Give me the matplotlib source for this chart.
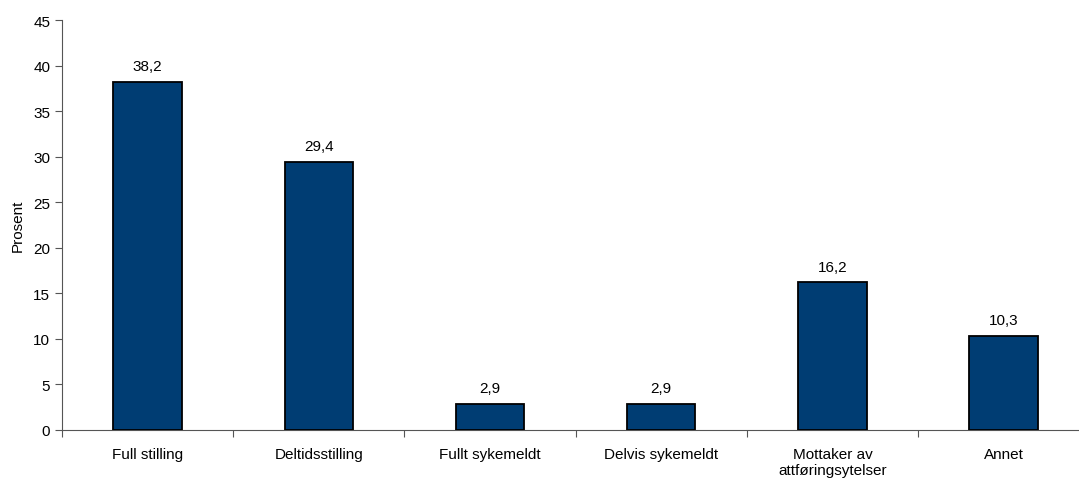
import numpy as np
import matplotlib.pyplot as plt

plt.rcParams['font.family'] = ['Liberation Sans', 'DejaVu Sans']

# data
kategorier = ['Full stilling', 'Deltidsstilling', 'Fullt sykemeldt',
              'Delvis sykemeldt', 'Mottaker av\nattføringsytelser', 'Annet']
prosent = [38.2, 29.4, 2.9, 2.9, 16.2, 10.3]
y_ticks = [0, 5, 10, 15, 20, 25, 30, 35, 40, 45]

fig = plt.figure(figsize=(10.79, 4.81), dpi=100)
# axes runs a bit past the right edge, like the original export
ax = fig.add_axes([0.0575, 0.104, 0.952, 0.852])

x = np.arange(len(kategorier))
ax.bar(x, prosent, width=0.40, color='#003D73', edgecolor='black', linewidth=1.3, zorder=3)

for xi, v in zip(x, prosent):
    ax.annotate(f'{v:.1f}'.replace('.', ','), (xi, v), xytext=(0, 8.5),
                textcoords='offset points', ha='center', va='baseline', fontsize=11)

ax.set_xlim(-0.5, len(kategorier) - 0.5)
ax.set_ylim(0, 45)
ax.set_yticks(y_ticks)
ax.set_ylabel('Prosent', fontsize=11, labelpad=6)

# ticks between categories, labels at the centers
ax.set_xticks(np.arange(len(kategorier) + 1) - 0.5)
ax.set_xticklabels([])
ax.set_xticks(x, minor=True)
ax.set_xticklabels(kategorier, minor=True, fontsize=11, linespacing=1.25)
ax.tick_params(axis='x', which='minor', length=0, pad=12)
ax.tick_params(axis='x', which='major', length=5, color='#555555')
ax.tick_params(axis='y', labelsize=11, length=5, color='#555555')

for s in ['top', 'right']:
    ax.spines[s].set_visible(False)
for s in ['left', 'bottom']:
    ax.spines[s].set_color('#555555')

fig.savefig('out.png', dpi=100)
